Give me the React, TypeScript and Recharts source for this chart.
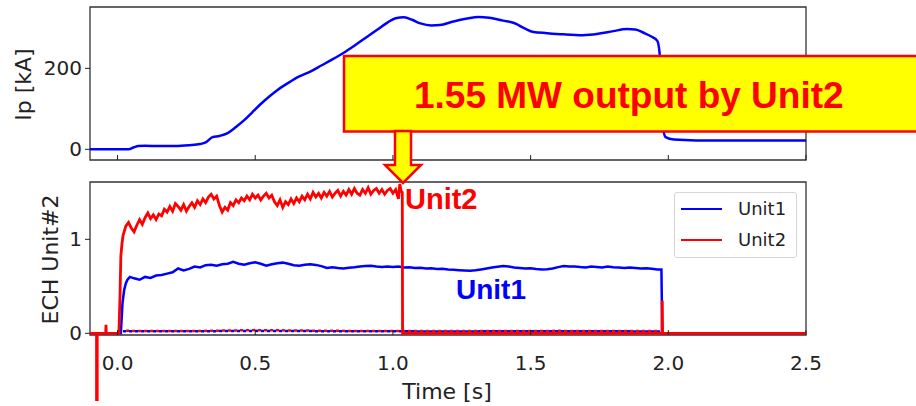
import React from "react";
import { Legend, Line, LineChart, ReferenceArea, ReferenceLine, XAxis, YAxis } from "recharts";

// plasma current (top panel)
const ipTime = [-0.1, 0.04, 0.06, 0.075, 0.1, 0.15, 0.21, 0.26, 0.3, 0.32, 0.345, 0.37, 0.4, 0.43, 0.46, 0.49, 0.52, 0.55, 0.58, 0.62, 0.66, 0.7, 0.74, 0.78, 0.82, 0.86, 0.9, 0.94, 0.98, 1.01, 1.04, 1.07, 1.1, 1.14, 1.17, 1.22, 1.27, 1.31, 1.35, 1.4, 1.44, 1.48, 1.51, 1.56, 1.62, 1.69, 1.75, 1.8, 1.85, 1.88, 1.91, 1.94, 1.96, 1.968, 1.975, 1.98, 1.99, 2.02, 2.1, 2.5];
const ipValue = [0, 0, 5, 8, 8.5, 8, 8, 10, 13, 17, 30, 33, 40, 55, 72, 92, 112, 130, 146, 164, 180, 192, 207, 222, 238, 256, 275, 294, 313, 324, 326, 320, 311, 306, 307, 316, 323, 327, 325, 318, 312, 298, 290, 287, 284, 282, 286, 292, 297, 296, 288, 278, 268, 240, 150, 60, 30, 24, 22, 22];

// ECH power, Unit1
const unit1Time = [-0.1, 0.012, 0.018, 0.024, 0.03, 0.036, 0.045, 0.06, 0.08, 0.1, 0.12, 0.14, 0.16, 0.18, 0.2, 0.22, 0.24, 0.26, 0.28, 0.3, 0.32, 0.34, 0.36, 0.38, 0.4, 0.42, 0.44, 0.46, 0.48, 0.5, 0.52, 0.54, 0.56, 0.58, 0.6, 0.62, 0.64, 0.66, 0.68, 0.7, 0.72, 0.74, 0.76, 0.78, 0.8, 0.82, 0.84, 0.86, 0.88, 0.9, 0.92, 0.94, 0.96, 0.98, 1.0, 1.02, 1.04, 1.06, 1.08, 1.1, 1.12, 1.14, 1.16, 1.18, 1.2, 1.22, 1.24, 1.26, 1.28, 1.3, 1.32, 1.34, 1.36, 1.38, 1.4, 1.42, 1.44, 1.46, 1.48, 1.5, 1.52, 1.54, 1.56, 1.58, 1.6, 1.62, 1.64, 1.66, 1.68, 1.7, 1.72, 1.74, 1.76, 1.78, 1.8, 1.82, 1.84, 1.86, 1.88, 1.9, 1.92, 1.94, 1.96, 1.975, 1.978, 2.5];
const unit1Power = [0, 0, 0.32, 0.46, 0.53, 0.57, 0.6, 0.585, 0.57, 0.6, 0.59, 0.615, 0.62, 0.635, 0.65, 0.69, 0.67, 0.685, 0.71, 0.7, 0.725, 0.73, 0.72, 0.735, 0.74, 0.76, 0.74, 0.73, 0.745, 0.755, 0.74, 0.72, 0.735, 0.745, 0.752, 0.74, 0.725, 0.72, 0.73, 0.735, 0.728, 0.715, 0.695, 0.702, 0.694, 0.69, 0.697, 0.702, 0.71, 0.716, 0.72, 0.71, 0.705, 0.712, 0.705, 0.71, 0.7, 0.703, 0.695, 0.697, 0.69, 0.692, 0.685, 0.688, 0.68, 0.676, 0.672, 0.668, 0.665, 0.671, 0.68, 0.69, 0.7, 0.708, 0.716, 0.71, 0.7, 0.696, 0.69, 0.692, 0.685, 0.68, 0.682, 0.69, 0.704, 0.716, 0.71, 0.712, 0.705, 0.7, 0.71, 0.706, 0.7, 0.71, 0.704, 0.7, 0.695, 0.701, 0.696, 0.69, 0.692, 0.686, 0.68, 0.68, 0, 0];

// ECH power, Unit2
const unit2Time = [-0.1, -0.043, -0.042, -0.041, 0.005, 0.009, 0.012, 0.016, 0.02, 0.03, 0.04, 0.05, 0.06, 0.07, 0.08, 0.09, 0.1, 0.11, 0.12, 0.13, 0.14, 0.15, 0.16, 0.17, 0.18, 0.19, 0.2, 0.21, 0.22, 0.23, 0.24, 0.25, 0.26, 0.27, 0.28, 0.29, 0.3, 0.31, 0.32, 0.33, 0.34, 0.35, 0.36, 0.37, 0.38, 0.39, 0.4, 0.41, 0.42, 0.43, 0.44, 0.45, 0.46, 0.47, 0.48, 0.49, 0.5, 0.51, 0.52, 0.53, 0.54, 0.55, 0.56, 0.57, 0.58, 0.59, 0.6, 0.61, 0.62, 0.63, 0.64, 0.65, 0.66, 0.67, 0.68, 0.69, 0.7, 0.71, 0.72, 0.73, 0.74, 0.75, 0.76, 0.77, 0.78, 0.79, 0.8, 0.81, 0.82, 0.83, 0.84, 0.85, 0.86, 0.87, 0.88, 0.89, 0.9, 0.91, 0.92, 0.93, 0.94, 0.95, 0.96, 0.97, 0.98, 0.99, 1.0, 1.01, 1.02, 1.025, 1.03, 1.034, 1.035, 1.977, 1.978, 1.979, 2.5];
const unit2Power = [0, 0, 0.09, 0, 0, 0.4, 0.82, 0.95, 1.04, 1.14, 1.18, 1.12, 1.08, 1.15, 1.21, 1.16, 1.23, 1.28, 1.22, 1.26, 1.21, 1.27, 1.25, 1.32, 1.29, 1.35, 1.3, 1.38, 1.35, 1.31, 1.37, 1.3, 1.35, 1.39, 1.34, 1.41, 1.37, 1.43, 1.39, 1.45, 1.48, 1.43, 1.46, 1.36, 1.29, 1.34, 1.31, 1.39, 1.36, 1.42, 1.39, 1.44, 1.41, 1.46, 1.42, 1.48, 1.44, 1.47, 1.42, 1.46, 1.49, 1.44, 1.47, 1.4, 1.36, 1.42, 1.34, 1.4, 1.37, 1.43, 1.38, 1.44, 1.4, 1.46, 1.42, 1.48, 1.43, 1.5, 1.45, 1.49, 1.44, 1.5, 1.46, 1.51, 1.45, 1.49, 1.52, 1.46, 1.51, 1.47, 1.53, 1.48, 1.54, 1.49, 1.47, 1.53, 1.49, 1.55, 1.48, 1.52, 1.54, 1.49, 1.53, 1.48, 1.52, 1.54, 1.49, 1.53, 1.43, 1.59, 1.51, 1.5, 0, 0, 0.35, 0, 0];

// low level traces sitting on the baseline
const lowTime = [0.02, 0.3, 0.5, 0.8, 1.2, 1.6, 1.97];
const unit1Low = [0.022, 0.022, 0.026, 0.022, 0.02, 0.022, 0.02];
const unit2Low = [0.026, 0.025, 0.034, 0.026, 0.024, 0.026, 0.024];

const timeTicks = [0, 0.5, 1, 1.5, 2, 2.5];
const ipTicks = [0, 200];
const echTicks = [0, 1];
const seriesNames = ["Unit1", "Unit2"];
const seriesColors = ["#0000ff", "#ff0000"];

const zip = (ts: number[], vs: number[]) => ts.map((t, i) => ({ t, v: vs[i] }));

const AXIS_FONT = "DejaVu Sans";
const BOLD_FONT = "Liberation Sans, Arial, sans-serif";
const tickStyle = { fontSize: 20, fill: "#222", fontFamily: AXIS_FONT };

const yTitle = (text: string, baseX: number) => (props: any) => {
  const vb = props.viewBox || {};
  const cy = (vb.y ?? 0) + (vb.height ?? 0) / 2 + 1;
  return (
    <text x={baseX} y={cy} transform={`rotate(-90, ${baseX}, ${cy})`} textAnchor="middle"
          fontSize={22} fill="#222" fontFamily={AXIS_FONT}>{text}</text>
  );
};

const xTitle = (props: any) => {
  const vb = props.viewBox || {};
  return (
    <text x={vb.x + vb.width / 2 - 1} y={vb.y + 64} textAnchor="middle" fontSize={22} fill="#222"
          fontFamily={AXIS_FONT}>Time [s]</text>
  );
};

const renderLegend = () => (
  <div style={{ position: "relative", width: 123, height: 66, border: "1px solid #d6d6d6", borderRadius: 3,
    boxSizing: "border-box", background: "rgba(255,255,255,0.85)", fontFamily: AXIS_FONT, fontSize: 18, color: "#222" }}>
    {seriesNames.map((name, i) => (
      <div key={name} style={{ position: "absolute", left: 6, top: 4 + i * 31, height: 24, display: "flex", alignItems: "center" }}>
        <div style={{ width: 41, height: 2, background: seriesColors[i] }}/>
        <span style={{ marginLeft: 16, lineHeight: "24px" }}>{name}</span>
      </div>
    ))}
  </div>
);

export default function App() {
  const ipData = zip(ipTime, ipValue);
  const unit1Data = zip(unit1Time, unit1Power);
  const unit2Data = zip(unit2Time, unit2Power);
  const unit1LowData = zip(lowTime, unit1Low);
  const unit2LowData = zip(lowTime, unit2Low);

  return (
    <div style={{ position: "absolute", left: 0, top: 0, width: 916, height: 406, background: "#fff", fontFamily: AXIS_FONT }}>
      <div style={{ position: "absolute", left: 0, top: 0 }}>
        <LineChart width={916} height={170} margin={{ top: 7, right: 110, bottom: 0, left: 0 }}>
          <XAxis type="number" dataKey="t" domain={[-0.1, 2.5]} ticks={timeTicks} interval={0} allowDataOverflow
                 height={10} tickSize={-5} axisLine={false} tickLine={{ stroke: "#222" }} tickFormatter={() => ""}/>
          <YAxis type="number" domain={[-26.4, 351.6]} ticks={ipTicks} interval={0} allowDataOverflow width={90}
                 tickSize={5} tickMargin={3} axisLine={false} tickLine={{ stroke: "#222" }} tick={tickStyle}
                 label={{ content: yTitle("Ip [kA]", 31) }}/>
          <ReferenceArea x1={-0.1} x2={2.5} y1={-26.4} y2={351.6} fill="none" stroke="#333" strokeWidth={1.3}/>
          <Line data={ipData} dataKey="v" type="monotone" stroke="#0000ff" strokeWidth={2.5} dot={false}
                isAnimationActive={false} legendType="none"/>
        </LineChart>
      </div>

      <div style={{ position: "absolute", left: 0, top: 170 }}>
        <LineChart width={916} height={236} margin={{ top: 12, right: 110, bottom: 0, left: 0 }}>
          <XAxis type="number" dataKey="t" domain={[-0.1, 2.5]} ticks={timeTicks} interval={0} allowDataOverflow
                 height={71} tickSize={-5} tickMargin={26} axisLine={false} tickLine={{ stroke: "#222" }}
                 tick={tickStyle} tickFormatter={(v: number) => v.toFixed(1)} label={{ content: xTitle }}/>
          <YAxis type="number" domain={[-0.018, 1.61]} ticks={echTicks} interval={0} allowDataOverflow width={90}
                 tickSize={5} tickMargin={3} axisLine={false} tickLine={{ stroke: "#222" }} tick={tickStyle}
                 label={{ content: yTitle("ECH Unit#2", 58) }}/>
          <ReferenceArea x1={-0.1} x2={2.5} y1={-0.018} y2={1.61} fill="none" stroke="#333" strokeWidth={1.3}/>
          <Line data={unit1LowData} dataKey="v" stroke="#0000ff" strokeWidth={2.5} strokeDasharray="3 3" dot={false}
                isAnimationActive={false} legendType="none"/>
          <Line data={unit2LowData} dataKey="v" stroke="#ff0000" strokeWidth={2.5} strokeDasharray="3 3"
                strokeDashoffset={3} dot={false} isAnimationActive={false} legendType="none"/>
          <Line data={unit1Data} dataKey="v" name="Unit1" stroke="#0000ff" strokeWidth={2.5} dot={false}
                isAnimationActive={false}/>
          <Line data={unit2Data} dataKey="v" name="Unit2" stroke="#ff0000" strokeWidth={2.8} dot={false}
                isAnimationActive={false}/>
          <ReferenceLine segment={[{ x: -0.075, y: 0 }, { x: -0.075, y: -0.72 }]} stroke="#ff0000"
                         strokeWidth={3.5} ifOverflow="visible"/>
          <Legend layout="vertical" align="center" verticalAlign="middle" content={renderLegend}
                  wrapperStyle={{ position: "absolute", left: 674, top: 22, width: 123, height: 66 }}/>
        </LineChart>
      </div>

      <svg width={916} height={406} style={{ position: "absolute", left: 0, top: 0, pointerEvents: "none" }}>
        <rect x={344} y={56} width={600} height={75.5} fill="#ffff00" stroke="#ff0000" strokeWidth={2.5}/>
        <polygon points="395,131 411,131 411,165 421,165 403,183 385,165 395,165" fill="#ffff00"
                 stroke="#ff0000" strokeWidth={2.5} strokeLinejoin="miter"/>
        <text x={414} y={108} fontSize={37} fontWeight="bold" fill="#ff0000" fontFamily={BOLD_FONT}>
          1.55 MW output by Unit2
        </text>
        <text x={405} y={209} fontSize={29} fontWeight="bold" fill="#ff0000" fontFamily={BOLD_FONT}>Unit2</text>
        <text x={456} y={299} fontSize={28} fontWeight="bold" fill="#0000ff" fontFamily={BOLD_FONT}>Unit1</text>
      </svg>
    </div>
  );
}
